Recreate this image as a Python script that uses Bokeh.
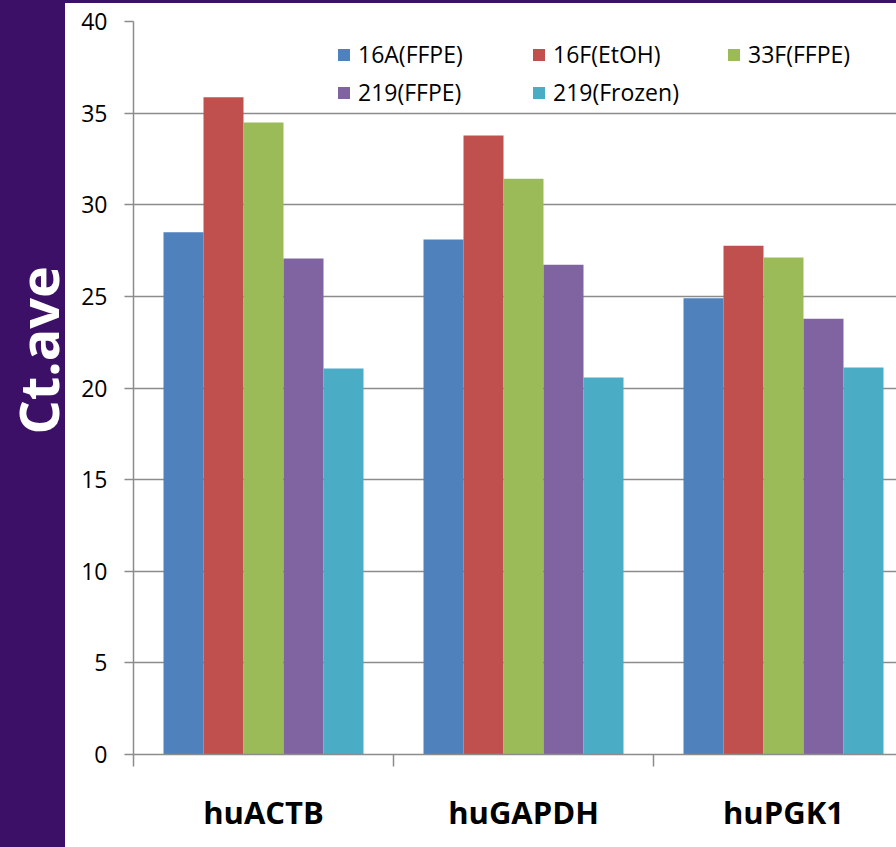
import numpy as np
from bokeh.plotting import figure
from bokeh.models import Range1d, FixedTicker, Legend, LegendItem
from bokeh.layouts import row
from bokeh.embed import file_html
from bokeh.resources import INLINE
from bokeh.core.properties import value

# ---- data ----
categories = ["huACTB", "huGAPDH", "huPGK1"]
series_names = ["16A(FFPE)", "16F(EtOH)", "33F(FFPE)", "219(FFPE)", "219(Frozen)"]
s_16A_FFPE = [28.5, 28.1, 24.9]
s_16F_EtOH = [35.87, 33.78, 27.76]
s_33F_FFPE = [34.49, 31.42, 27.12]
s_219_FFPE = [27.07, 26.72, 23.78]
s_219_Frozen = [21.06, 20.57, 21.12]
series_values = [s_16A_FFPE, s_16F_EtOH, s_33F_FFPE, s_219_FFPE, s_219_Frozen]
colors = ["#4f81bd", "#c0504d", "#9bbb59", "#8064a2", "#4bacc6"]
y_ticks = [0, 5, 10, 15, 20, 25, 30, 35, 40]
y_label = "Ct.ave"

PURPLE = "#3d1068"
GRID = "#8c8c8c"
FONT = "Open Sans"

LEFT_W = 78      # width of the left strip figure (purple part is its left 65px)
TOTAL_W, TOTAL_H = 896, 847

# ---- main chart ----
group_px = 260.0
bar_w = 40.0 / group_px
p = figure(width=TOTAL_W - LEFT_W, height=TOTAL_H,
           x_range=Range1d(0, 763.0 / group_px), y_range=Range1d(0, 40),
           output_backend="svg", toolbar_location=None,
           min_border_left=133 - LEFT_W, min_border_right=0, min_border_top=21, min_border_bottom=93,
           background_fill_color="white", border_fill_color="white", border_fill_alpha=0,
           styles={"background": "linear-gradient(to bottom, %s 3px, #ffffff 3px)" % PURPLE})
p.outline_line_color = None

renderers = []
for i, (name, vals, col) in enumerate(zip(series_names, series_values, colors)):
    xs = [k + 0.5 + (i - 2) * bar_w for k in range(len(categories))]
    r = p.vbar(x=xs, top=vals, width=bar_w, bottom=0, fill_color=col, line_color=None)
    renderers.append(r)

# y axis
p.yaxis.ticker = FixedTicker(ticks=y_ticks)
p.yaxis.axis_line_color = GRID
p.yaxis.axis_line_width = 1.5
p.yaxis.major_tick_line_color = GRID
p.yaxis.major_tick_line_width = 1.5
p.yaxis.major_tick_out = 9
p.yaxis.major_tick_in = 0
p.yaxis.minor_tick_line_color = None
p.yaxis.major_label_standoff = 17
p.yaxis.major_label_text_font = FONT
p.yaxis.major_label_text_font_size = "23px"
p.yaxis.major_label_text_color = "black"

p.ygrid.ticker = FixedTicker(ticks=y_ticks)
p.ygrid.grid_line_color = GRID
p.ygrid.grid_line_width = 1.5
p.xgrid.grid_line_color = None

# x axis: labels at group centers, tick marks at group boundaries
centers = [k + 0.5 for k in range(len(categories))]
p.xaxis.ticker = FixedTicker(ticks=centers, minor_ticks=list(range(len(categories) + 1)))
p.xaxis.major_label_overrides = {c: lab for c, lab in zip(centers, categories)}
p.xaxis.axis_line_color = GRID
p.xaxis.axis_line_width = 1.5
p.xaxis.major_tick_line_color = None
p.xaxis.major_tick_out = 0
p.xaxis.major_tick_in = 0
p.xaxis.minor_tick_line_color = GRID
p.xaxis.minor_tick_line_width = 1.5
p.xaxis.minor_tick_out = 12
p.xaxis.minor_tick_in = 0
p.xaxis.major_label_standoff = 24
p.xaxis.major_label_text_font = FONT
p.xaxis.major_label_text_font_style = "bold"
p.xaxis.major_label_text_font_size = "31px"
p.xaxis.major_label_text_color = "black"

legend = Legend(items=[LegendItem(label=n, renderers=[r]) for n, r in zip(series_names, renderers)],
                location=(203, 646), orientation="horizontal", ncols=3,
                glyph_width=15, glyph_height=15, label_standoff=7, label_width=167,
                spacing=6, padding=0, margin=0,
                border_line_color=None, background_fill_alpha=0,
                label_text_font=FONT, label_text_font_size="23px", label_text_color="black")
p.add_layout(legend)

# ---- left strip with rotated axis title ----
lp = figure(width=LEFT_W, height=TOTAL_H, x_range=Range1d(0, 65), y_range=Range1d(0, TOTAL_H),
            output_backend="svg", toolbar_location=None,
            min_border_left=0, min_border_top=0, min_border_bottom=0, min_border_right=LEFT_W - 65,
            x_axis_location=None, y_axis_location=None,
            background_fill_alpha=0, border_fill_alpha=0,
            styles={"background": "linear-gradient(to bottom, %s 3px, rgba(0,0,0,0) 3px), "
                                  "linear-gradient(to right, %s 65px, #ffffff 65px)" % (PURPLE, PURPLE)})
lp.outline_line_color = None
lp.grid.visible = False
lp.text(x=[37.5], y=[467], text=[y_label], angle=np.pi / 2,
        text_align="center", text_baseline="middle", text_color="white",
        text_font=value(FONT), text_font_style="bold", text_font_size="54px")

layout = row(lp, p, spacing=0)

open("out.html", "w").write(file_html(layout, INLINE))
